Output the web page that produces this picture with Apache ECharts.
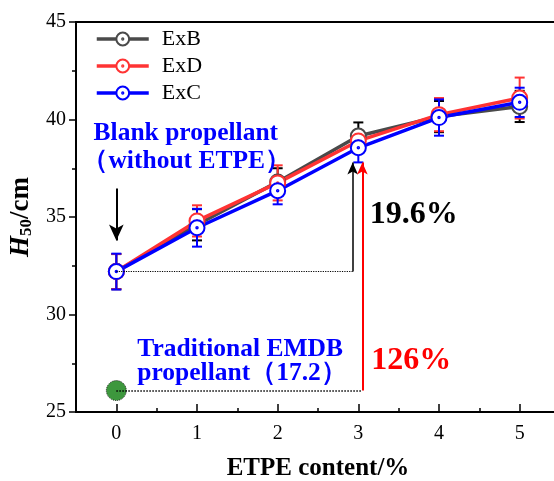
<!DOCTYPE html>
<html><head><meta charset="utf-8">
<script src="https://cdn.jsdelivr.net/npm/echarts@6/dist/echarts.min.js"></script>
<style>html,body{margin:0;padding:0;background:#fff}#c{width:554px;height:481px}</style>
</head><body><div id="c"></div>
<script>
// ---- data ----
const etpe = [0, 1, 2, 3, 4, 5];
const xTickLabels = [0, 1, 2, 3, 4, 5];
const exB = [32.2, 34.6, 36.8, 39.15, 40.15, 40.67];
const exBErr = [0.9, 0.8, 0.7, 0.7, 0.8, 0.8];
const exD = [32.2, 34.8, 36.75, 38.9, 40.25, 41.1];
const exDErr = [0.9, 0.8, 0.9, 0.55, 0.85, 1.05];
const exC = [32.2, 34.45, 36.35, 38.55, 40.1, 40.88];
const exCErr = [0.92, 0.97, 0.7, 0.75, 0.93, 0.75];
const emdbPoint = [0, 26.1];
const blankLevel = 32.2;
const arrowTipLevel = 37.8;
const blackGuideX = 2.93;
const redGuideX = 3.05;

const FONT = '"Liberation Serif","Times New Roman",serif';
const cB = '#4a4a4a', cD = '#ff3333', cC = '#0000ff';
const ringDot = 'path://M10,0A10,10,0,1,1,-10,0A10,10,0,1,1,10,0ZM1,0A1,1,0,1,1,-1,0A1,1,0,1,1,1,0Z';

function lineSeries(name, vals, color) {
  return {
    type: 'line', name, z: 3,
    data: etpe.map((x, i) => [x, vals[i]]),
    symbol: ringDot, symbolSize: 15,
    lineStyle: { color, width: 3.5 },
    itemStyle: { color: '#fff', borderColor: color, borderWidth: 2 },
    emphasis: { disabled: true }
  };
}
function errSeries(name, vals, errs, color) {
  return {
    type: 'custom', name: name + '_err', z: 2,
    data: etpe.map((x, i) => [x, vals[i], errs[i]]),
    encode: { x: 0, y: 1 },
    renderItem(params, api) {
      const x = api.value(0), y = api.value(1), e = api.value(2);
      const t = api.coord([x, y + e]), b = api.coord([x, y - e]);
      const w = 5;
      const st = { stroke: color, lineWidth: 2 };
      return { type: 'group', children: [
        { type: 'line', shape: { x1: t[0], y1: t[1], x2: b[0], y2: b[1] }, style: st },
        { type: 'line', shape: { x1: t[0] - w, y1: t[1], x2: t[0] + w, y2: t[1] }, style: st },
        { type: 'line', shape: { x1: b[0] - w, y1: b[1], x2: b[0] + w, y2: b[1] }, style: st }
      ]};
    }
  };
}

const chart = echarts.init(document.getElementById('c'));
chart.setOption({
  animation: false,
  backgroundColor: '#fff',
  grid: { left: 76, top: 22, width: 484, height: 390, outerBoundsMode: 'none', containLabel: false, show: true, borderColor: '#000', borderWidth: 2, backgroundColor: 'transparent' },
  legend: {
    data: ['ExB', 'ExD', 'ExC'], orient: 'vertical', left: 90, top: 23,
    itemWidth: 52, itemHeight: 16, itemGap: 5,
    lineStyle: { width: 3.5 },
    textStyle: { fontFamily: FONT, fontSize: 22, color: '#000', padding: [0, 0, 0, 8] }
  },
  xAxis: [{
    type: 'value', min: -0.5, max: 5.5, interval: 0.5,
    name: 'ETPE content/%', nameLocation: 'middle', nameGap: 44,
    nameTextStyle: { fontFamily: FONT, fontSize: 25, fontWeight: 'bold', color: '#000' },
    axisLine: { lineStyle: { color: '#000', width: 2 } },
    axisTick: { show: true, inside: true, length: 8, customValues: xTickLabels, lineStyle: { width: 1.5 } },
    axisLabel: { customValues: xTickLabels, fontFamily: FONT, fontSize: 20, color: '#000', margin: 12 },
    splitLine: { show: false }
  }, {
    type: 'value', min: -0.5, max: 5.5, interval: 0.5, position: 'bottom',
    axisLine: { show: false },
    axisTick: { show: true, inside: true, length: 4, lineStyle: { color: '#000', width: 1.5 } },
    axisLabel: { show: false }, splitLine: { show: false }
  }],
  yAxis: {
    type: 'value', min: 25, max: 45, interval: 5,
    name: '{i|H}{s|50}{n|/cm}', nameLocation: 'middle', nameGap: 24,
    nameTextStyle: { rich: {
      i: { fontFamily: FONT, fontSize: 27, fontWeight: 'bold', fontStyle: 'italic', color: '#000' },
      s: { fontFamily: FONT, fontSize: 17, fontWeight: 'bold', color: '#000', padding: [11, 0, 0, 0] },
      n: { fontFamily: FONT, fontSize: 27, fontWeight: 'bold', color: '#000' }
    } },
    axisLine: { show: true, onZero: false, lineStyle: { color: '#000', width: 2 } },
    axisTick: { show: true, inside: false, length: 7, lineStyle: { width: 1.5 } },
    minorTick: { show: true, splitNumber: 2, length: 4, lineStyle: { color: '#000', width: 1.5 } },
    axisLabel: { fontFamily: FONT, fontSize: 20, color: '#000', margin: 10 },
    splitLine: { show: false }
  },
  series: [
    errSeries('ExB', exB, exBErr, '#000'),
    errSeries('ExD', exD, exDErr, cD),
    errSeries('ExC', exC, exCErr, cC),
    lineSeries('ExB', exB, cB),
    lineSeries('ExD', exD, cD),
    lineSeries('ExC', exC, cC),
    {
      type: 'scatter', name: 'EMDB', z: 4, data: [emdbPoint], symbolSize: 20,
      itemStyle: { color: '#0c7d0c', borderColor: '#000', borderWidth: 1, borderType: 'dotted' }
    },
    {
      type: 'line', name: 'annot', data: [], z: 1,
      markLine: {
        silent: true, animation: false, symbol: ['none', 'none'],
        label: { show: false },
        data: [
          [{ coord: [0, 36.46], lineStyle: { color: '#000', width: 2, type: 'solid' } }, { coord: [0, 33.8], symbol: 'arrow', symbolSize: [11, 16] }],
          [{ coord: [0, blankLevel], lineStyle: { color: '#000', width: 1.2, type: 'dotted' } }, { coord: [blackGuideX, blankLevel] }],
          [{ coord: [blackGuideX, blankLevel], lineStyle: { color: '#000', width: 1.5, type: 'solid' } }, { coord: [blackGuideX, arrowTipLevel], symbol: 'arrow', symbolSize: [8, 12] }],
          [{ coord: emdbPoint, lineStyle: { color: '#000', width: 1.5, type: 'dotted' } }, { coord: [redGuideX, emdbPoint[1]] }],
          [{ coord: [redGuideX, emdbPoint[1]], lineStyle: { color: '#ff0000', width: 2, type: 'solid' } }, { coord: [redGuideX, arrowTipLevel], symbol: 'arrow', symbolSize: [8, 12] }]
        ]
      }
    }
  ]
});

// text annotations anchored in data space
const notes = [
  { t: 'Blank propellant', at: [-0.282, 39.29], c: '#0000ff', s: 25.5 },
  { t: '（without ETPE）', at: [-0.42, 37.86], c: '#0000ff', s: 25.5 },
  { t: 'Traditional EMDB', at: [0.26, 28.2], c: '#0000ff', s: 25.5 },
  { t: 'propellant（17.2）', at: [0.26, 26.98], c: '#0000ff', s: 25.5 },
  { t: '19.6%', at: [3.14, 35.12], c: '#000', s: 32 },
  { t: '126%', at: [3.16, 27.65], c: '#ff0000', s: 32 }
];
chart.setOption({
  graphic: notes.map(n => {
    const p = chart.convertToPixel({ gridIndex: 0 }, n.at);
    return { type: 'text', x: p[0], y: p[1], z: 10, style: { text: n.t, fill: n.c, font: 'bold ' + n.s + 'px ' + FONT, textAlign: 'left', textVerticalAlign: 'middle' } };
  })
});
</script>
</body></html>
